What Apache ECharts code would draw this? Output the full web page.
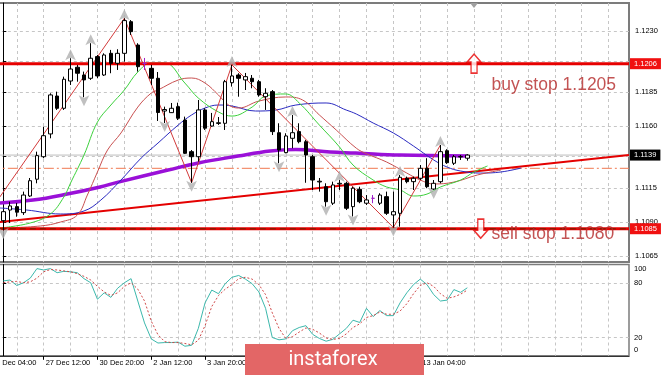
<!DOCTYPE html>
<html><head><meta charset="utf-8">
<script src="https://cdn.jsdelivr.net/npm/echarts@6/dist/echarts.min.js"></script>
<style>html,body{margin:0;padding:0;background:#fff}#c{width:665px;height:375px}</style>
</head><body><div id="c"></div>
<script>
// ---- candles (H4 bars, index 0..69) ----
const opens  = [1.10909,1.10987,1.11012,1.10968,1.11090,1.11213,1.11378,1.11545,1.11823,1.11733,
                1.11933,1.12034,1.11977,1.11953,1.12112,1.11977,1.12136,1.12063,1.12136,1.12368,
                1.12197,1.12062,1.12026,1.11953,1.11713,1.11701,1.11745,1.11647,1.11415,1.11378,
                1.11721,1.11603,1.11622,1.11623,1.11921,1.11977,1.11941,1.11953,1.11928,1.11818,
                1.11855,1.11554,1.11408,1.11513,1.11562,1.11488,1.11378,1.11193,1.11158,1.11037,
                1.11178,1.11183,1.11012,1.11139,1.11037,1.11073,1.11037,1.11085,1.10951,1.10963,
                1.11220,1.11195,1.11220,1.11293,1.11141,1.11195,1.11422,1.11330,1.11376,1.11367];
const highs  = [1.10995,1.11048,1.11039,1.11122,1.11222,1.11415,1.11598,1.11843,1.11855,1.11965,
                1.12100,1.12051,1.12002,1.12210,1.12124,1.12136,1.12161,1.12166,1.12393,1.12380,
                1.12210,1.12102,1.12051,1.11999,1.11745,1.11772,1.11774,1.11672,1.11427,1.11794,
                1.11733,1.11699,1.11669,1.11941,1.12051,1.11990,1.11992,1.11977,1.11941,1.11880,
                1.11867,1.11623,1.11550,1.11684,1.11623,1.11501,1.11391,1.11222,1.11183,1.11195,
                1.11207,1.11195,1.11158,1.11158,1.11097,1.11097,1.11110,1.11122,1.11122,1.11244,
                1.11232,1.11232,1.11317,1.11367,1.11207,1.11464,1.11433,1.11391,1.11391,1.11396];
const lows   = [1.10841,1.10892,1.10938,1.10951,1.11083,1.11183,1.11367,1.11513,1.11721,1.11721,
                1.11904,1.11928,1.11814,1.11941,1.11953,1.11970,1.11990,1.12014,1.12075,1.12271,
                1.12002,1.12014,1.11904,1.11640,1.11625,1.11699,1.11647,1.11398,1.11187,1.11342,
                1.11574,1.11598,1.11611,1.11574,1.11892,1.11818,1.11867,1.11880,1.11818,1.11721,
                1.11537,1.11330,1.11403,1.11440,1.11476,1.11187,1.11134,1.11122,1.11012,1.11024,
                1.11134,1.10987,1.10940,1.11037,1.11024,1.11037,1.11024,1.10951,1.10859,1.10865,
                1.11183,1.11134,1.11207,1.11147,1.11134,1.11183,1.11325,1.11317,1.11354,1.11349];
const closes = [1.10975,1.11017,1.10971,1.11097,1.11202,1.11386,1.11532,1.11831,1.11733,1.11946,
                1.12021,1.11990,1.11941,1.12100,1.11970,1.12124,1.12063,1.12136,1.12376,1.12295,
                1.12038,1.12062,1.11953,1.11702,1.11724,1.11733,1.11660,1.11403,1.11378,1.11721,
                1.11587,1.11635,1.11627,1.11928,1.11970,1.11953,1.11965,1.11928,1.11831,1.11843,
                1.11562,1.11427,1.11530,1.11554,1.11488,1.11391,1.11207,1.11198,1.11048,1.11171,
                1.11183,1.11000,1.11147,1.11048,1.11061,1.11073,1.11097,1.10963,1.10975,1.11227,
                1.11195,1.11220,1.11293,1.11158,1.11183,1.11415,1.11334,1.11378,1.11380,1.11390];

// ---- indicators: [bar, price] ----
const maPurple = [[-0.5,1.11038],[4.4,1.11060],[9.5,1.11104],[14.4,1.11156],[17.1,1.11192],[24.5,1.11280],
                  [29,1.11332],[34.9,1.11383],[39.7,1.11420],[43.5,1.11431],[48.6,1.11412],[52.4,1.11405],
                  [59,1.11390],[69,1.11383]];
const lipsGreen = [[-0.5,1.10855],[4,1.10892],[7,1.10958],[9,1.11082],[10,1.11185],[12,1.11390],[14,1.11632],
                   [16,1.11757],[18,1.11867],[20,1.11999],[22,1.12065],[24,1.12065],[27,1.11918],[29,1.11808],
                   [32,1.11706],[34,1.11676],[37,1.11742],[39,1.11823],[42,1.11838],[44,1.11772],[47,1.11610],
                   [50,1.11449],[52,1.11317],[55,1.11207],[57,1.11156],[59,1.11134],[61,1.11090],[63,1.11104],
                   [65,1.11156],[68,1.11207],[70,1.11266],[72,1.11310]];
const teethRed = [[-0.5,1.10855],[5.5,1.10870],[8.5,1.10899],[11,1.10950],[12.5,1.11097],[14,1.11266],
                  [15.5,1.11427],[17.5,1.11552],[20,1.11742],[22,1.11845],[23,1.11867],[26,1.11940],
                  [28,1.11955],[30,1.11918],[32,1.11830],[33.5,1.11757],[35,1.11735],[38,1.11786],
                  [42,1.11816],[44.5,1.11794],[47,1.11684],[49.5,1.11574],[52.5,1.11440],[54,1.11400],
                  [57,1.11339],[60,1.11258],[62,1.11207],[64,1.11178],[67,1.11192],[70.5,1.11244],[74,1.11280]];
const jawBlue = [[-0.5,1.11002],[3.5,1.10987],[8.5,1.10958],[12,1.10980],[14.5,1.11060],[17.5,1.11207],
                 [20.5,1.11368],[23,1.11478],[26,1.11610],[28,1.11684],[30,1.11735],[32,1.11757],[34,1.11750],
                 [37.5,1.11713],[40.5,1.11720],[43.5,1.11757],[48,1.11772],[51,1.11720],[52.5,1.11691],
                 [55,1.11625],[58,1.11552],[61,1.11456],[64,1.11354],[66,1.11302],[68,1.11273],[71,1.11258],
                 [74,1.11266],[77,1.11295]];
const zigzag = [[-3,1.10907],[18,1.12393],[28,1.11187],[34,1.12051],[58,1.10859],[65,1.11464]];
const trendLine = [[-0.5,1.10899],[93.04,1.11391]];
const fractalUpBars = [10,13,18,34,43,50,59,65];
const fractalDownBars = [0,12,24,28,41,48,52,58,64];

// ---- levels ----
const buyStopLevel = 1.1206, sellStopLevel = 1.1085, pivotLevel = 1.11293, bidPrice = 1.1139;
const arrowUp = [[70, 1.1206]], arrowDown = [[71, 1.1085]];
const notes = [{value:[72.6,1.11901], text:'buy stop 1.1205'}, {value:[72.6,1.10813], text:'sell stop 1.1080'}];

// ---- stochastic ----
const stochMain = [82,83,77,80,85,95.5,94,95.5,91,92.5,92,91,84.5,80,62,69,64,74,80,84.5,
                   60,36,18.5,14,14.5,14.5,15,10.5,11.5,30,58,72,68,79,86,88,84,79,70,52,
                   20,17.5,18.5,27.5,31,33,23.5,19,16,18,24,30,39,36.5,52,43,49.5,44,44,58,
                   69,78,84,78,67,60,61,72.5,69.5,74.5];
const stochSignal = [80,81,81.5,80,81,85,92,94.5,94,93,92,90,87,83,76,70,66,69,76,80,
                     73,60,38,23,15.5,14.5,14.5,13.5,12,17,33,54,66,73,78,84.5,86,84,78,67,
                     47,30,19,21,26,30.5,29,25,19.5,18,19,24,31,35,42,44,48,45.5,45.5,49,
                     57,68,77,80,76,68,63,64.5,67.5,72];

// ---- axes ticks / labels ----
const xMin = -2, xMax = 93.04, yMin = 1.10606, yMax = 1.12505;
const priceTicks = [1.1065,1.1090,1.1115,1.1138,1.1160,1.1185,1.1208,1.1230];
const priceLabels = [1.1065,1.1090,1.1115,1.1160,1.1185,1.1230];
const stochTicks = [20,80];
const stochLabels = [0,20,80,100];
const gridBars = [2,6,10,14,18,22,26,30,34,38,42,46,50,54,58,62,66,70,74,78,82,86,90];
const timeLabelBars = [-2,6,14,22,30,38,46,54,62];
const timeLabels = ['26 Dec 04:00','27 Dec 12:00','30 Dec 20:00','2 Jan 12:00','3 Jan 20:00',
                    '7 Jan 04:00','8 Jan 12:00','9 Jan 20:00','13 Jan 04:00'];

const FONT = 'Liberation Sans';
const gridLine = {show:true, lineStyle:{color:'#c6c6c6', type:[3,3], width:1}};
const chart = echarts.init(document.getElementById('c'), null, {renderer:'canvas'});
const arrowPath = 'path://M7,0 L14,8 L10,8 L10,19 L4,19 L4,8 L0,8 Z';
const levelSeries = (v, color, width, type, box, z) => ({
  type:'line', xAxisIndex:0, yAxisIndex:0, data:[[xMin, v],[xMax, v]], showSymbol:false, symbol:'none',
  lineStyle:{color, width, type}, z, silent:true,
  endLabel: box ? {show:true, distance:1, formatter:()=>v.toFixed(4), color:'#fff', backgroundColor:box,
    padding:[2,4,1,4], fontSize:7.5, fontFamily:FONT} : {show:false}
});

const option = {
  animation:false,
  backgroundColor:'#fff',
  textStyle:{fontFamily:FONT},
  grid:[
    {left:-10.15, right:36, top:3, bottom:113, show:true, borderColor:'#7c7c7c', borderWidth:2,
     containLabel:false, outerBoundsMode:'none'},
    {left:-10.15, right:36, top:264.5, bottom:19.2, show:true, borderColor:'#7c7c7c', borderWidth:1.5,
     containLabel:false, outerBoundsMode:'none'}
  ],
  xAxis:[
    {type:'value', gridIndex:0, position:'bottom', min:xMin, max:xMax, axisLine:{show:false}, axisLabel:{show:false},
     axisTick:{show:false, customValues:gridBars}, splitLine:gridLine},
    {type:'value', gridIndex:1, position:'top', min:xMin, max:xMax, axisLine:{show:false}, axisLabel:{show:false},
     axisTick:{show:false, customValues:gridBars}, splitLine:gridLine},
    {type:'value', gridIndex:1, position:'bottom', min:xMin, max:xMax, axisLine:{show:true, lineStyle:{color:'#333', width:1}},
     axisTick:{show:true, customValues:timeLabelBars, length:4, lineStyle:{color:'#000'}},
     axisLabel:{show:true, customValues:timeLabelBars, align:'left', margin:3, fontSize:7.5, color:'#000',
       padding:[0,0,0,2], formatter:(v)=>{const k=timeLabelBars.indexOf(v); return k>=0?timeLabels[k]:'';}},
     splitLine:{show:false}}
  ],
  yAxis:[
    {type:'value', gridIndex:0, position:'right', min:yMin, max:yMax,
     axisLine:{show:true, lineStyle:{color:'#000', width:1}},
     axisTick:{show:true, customValues:priceTicks, length:3, lineStyle:{color:'#000'}},
     axisLabel:{customValues:priceLabels, formatter:(v)=>v.toFixed(4), fontSize:7.5, color:'#000', margin:6},
     splitLine:gridLine},
    {type:'value', gridIndex:1, position:'right', min:0, max:100,
     axisLine:{show:true, lineStyle:{color:'#000', width:1}},
     axisTick:{show:true, customValues:stochTicks, length:3, lineStyle:{color:'#000'}},
     axisLabel:{customValues:stochLabels, fontSize:7.5, color:'#000', margin:5,
       formatter:(v)=> v===100 ? '{t|100}' : (v===0 ? '{b|0}' : String(v)),
       rich:{t:{fontSize:7.5, color:'#000', padding:[8,0,0,0]}, b:{fontSize:7.5, color:'#000', padding:[0,0,12,0]}}},
     splitLine:gridLine}
  ],
  series:[
    levelSeries(bidPrice, '#bdbdbd', 1, 'solid', '#000', 2),
    levelSeries(pivotLevel, '#f07850', 1, [10,3,2,3], null, 2),
    levelSeries(buyStopLevel, '#e60000', 3, 'solid', '#f01010', 4),
    levelSeries(sellStopLevel, '#e60000', 3, 'solid', '#f01010', 4),
    levelSeries(sellStopLevel, '#8a1a00', 1.5, [6,4], null, 4),
    {type:'line', name:'trend', xAxisIndex:0, yAxisIndex:0, data:trendLine, showSymbol:false, symbol:'none',
     lineStyle:{color:'#e40000', width:2}, z:3},
    {type:'line', name:'MA', xAxisIndex:0, yAxisIndex:0, data:maPurple, showSymbol:false, symbol:'none', smooth:0.4,
     lineStyle:{color:'#9a10d8', width:3.5}, z:3},
    {type:'line', name:'jaw', xAxisIndex:0, yAxisIndex:0, data:jawBlue, showSymbol:false, symbol:'none', smooth:0.4,
     lineStyle:{color:'#2a2ac0', width:1}, z:3},
    {type:'line', name:'teeth', xAxisIndex:0, yAxisIndex:0, data:teethRed, showSymbol:false, symbol:'none', smooth:0.4,
     lineStyle:{color:'#c85050', width:1}, z:3},
    {type:'line', name:'lips', xAxisIndex:0, yAxisIndex:0, data:lipsGreen, showSymbol:false, symbol:'none', smooth:0.4,
     lineStyle:{color:'#3cd03c', width:1}, z:3},
    {type:'line', name:'zigzag', xAxisIndex:0, yAxisIndex:0, data:zigzag, showSymbol:false, symbol:'none',
     lineStyle:{color:'#d23a3a', width:1}, z:3},
    {type:'candlestick', xAxisIndex:0, yAxisIndex:0, barWidth:4, z:5,
     data:opens.map((o,i)=>[i,o,closes[i],lows[i],highs[i]]),
     itemStyle:{color:'#fff', color0:'#000', borderColor:'#000', borderColor0:'#000', borderColorDoji:'#a020c8', borderWidth:1}},
    {type:'scatter', xAxisIndex:0, yAxisIndex:0, z:6, symbol:'arrow', symbolSize:[8,11], symbolOffset:[0,-9],
     itemStyle:{color:'#b0b0b0'}, data:fractalUpBars.map(b=>[b,highs[b]])},
    {type:'scatter', xAxisIndex:0, yAxisIndex:0, z:6, symbol:'arrow', symbolSize:[8,11], symbolOffset:[0,9], symbolRotate:180,
     itemStyle:{color:'#b0b0b0'}, data:fractalDownBars.map(b=>[b,lows[b]])},
    {type:'scatter', xAxisIndex:0, yAxisIndex:0, z:7, symbol:arrowPath, symbolSize:[14,19],
     itemStyle:{color:'#fff', borderColor:'#e60000', borderWidth:1.5}, data:arrowUp},
    {type:'scatter', xAxisIndex:0, yAxisIndex:0, z:7, symbol:arrowPath, symbolSize:[14,19], symbolRotate:180,
     itemStyle:{color:'#fff', borderColor:'#e60000', borderWidth:1.5}, data:arrowDown},
    {type:'scatter', xAxisIndex:0, yAxisIndex:0, z:7, symbolSize:0, clip:false,
     data:notes.map(n=>({value:n.value, name:n.text})),
     label:{show:true, position:'right', distance:0, formatter:(p)=>p.name, fontSize:17.5, color:'#b42828', fontFamily:FONT}},
    {type:'line', name:'stoch', xAxisIndex:1, yAxisIndex:1, data:stochMain.map((v,i)=>[i,v]), showSymbol:false, symbol:'none',
     lineStyle:{color:'#3cb8ac', width:1}, z:3},
    {type:'line', name:'signal', xAxisIndex:1, yAxisIndex:1, data:stochSignal.map((v,i)=>[i,v]), showSymbol:false, symbol:'none',
     lineStyle:{color:'#d04848', width:1, type:[2,2]}, z:3}
  ],
  graphic:[
    {type:'polygon', shape:{points:[[470,3],[478,3],[474,8]]}, style:{fill:'#a0a0a0'}, z:10},
    {type:'rect', shape:{x:245, y:344, width:179, height:35}, style:{fill:'#e36666'}, z:20},
    {type:'text', x:333, y:360, style:{text:'instaforex', fill:'#fff', font:'20px Roboto', textAlign:'center', textVerticalAlign:'middle'}, z:21}
  ]
};
chart.setOption(option);
</script>
</body></html>
